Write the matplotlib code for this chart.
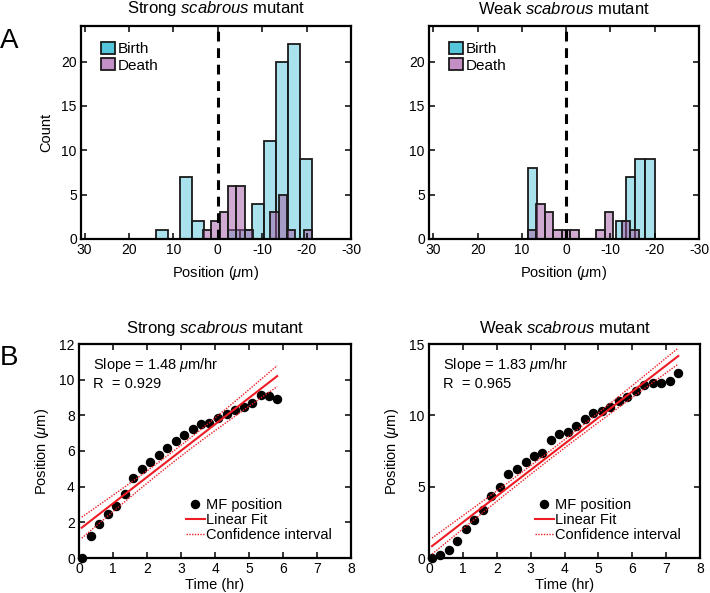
import numpy as np
import matplotlib
matplotlib.use("Agg")
import matplotlib.pyplot as plt
from matplotlib.patches import Patch

plt.rcParams['font.family'] = ['Liberation Sans', 'DejaVu Sans']
plt.rcParams['mathtext.fontset'] = 'custom'
plt.rcParams['mathtext.rm'] = 'Liberation Sans'
plt.rcParams['mathtext.it'] = 'Liberation Sans:italic'
plt.rcParams['mathtext.bf'] = 'Liberation Sans:bold'
plt.rcParams['axes.unicode_minus'] = False

# ---------------- data ----------------
strong_birth_edges = [13.8, 11.1, 8.4, 5.7, 3.0, 0.3, -2.4, -5.1, -7.8, -10.5, -13.2, -15.9, -18.6, -21.3]
strong_birth_counts = [1, 0, 7, 2, 0, 0, 1, 1, 4, 11, 20, 22, 9]
strong_death_edges = [3.4, 1.5, -0.4, -2.3, -4.2, -6.1, -8.0, -9.9, -11.8, -13.7, -15.6, -17.5, -19.4, -21.3]
strong_death_counts = [1, 2, 3, 6, 6, 1, 0, 0, 3, 5, 1, 0, 1]

weak_birth_edges = [8.7, 6.49, 4.28, 2.07, -0.14, -2.35, -4.56, -6.77, -8.98, -11.19, -13.4, -15.61, -17.82, -20.03]
weak_birth_counts = [8, 0, 0, 0, 0, 0, 0, 0, 0, 2, 7, 9, 9]
weak_death_edges = [8.7, 6.77, 4.84, 2.91, 0.98, -0.95, -2.88, -4.81, -6.74, -8.67, -10.6, -12.53, -14.46, -16.39]
weak_death_counts = [1, 4, 3, 1, 1, 1, 0, 0, 1, 3, 0, 2, 1]

strong_time = [0.08, 0.34, 0.59, 0.85, 1.10, 1.34, 1.60, 1.84, 2.10, 2.34, 2.59, 2.84,
               3.09, 3.34, 3.59, 3.83, 4.08, 4.34, 4.59, 4.84, 5.09, 5.34, 5.59, 5.83]
strong_pos = [0.0, 1.25, 1.92, 2.46, 2.93, 3.60, 4.48, 4.98, 5.37, 5.76, 6.15, 6.58,
              6.92, 7.22, 7.50, 7.59, 7.83, 8.07, 8.30, 8.48, 8.67, 9.12, 9.08, 8.91]

weak_time = [0.09, 0.33, 0.59, 0.84, 1.09, 1.34, 1.60, 1.84, 2.09, 2.34, 2.59, 2.85,
             3.09, 3.35, 3.60, 3.84, 4.10, 4.34, 4.60, 4.85, 5.10, 5.35, 5.60, 5.85,
             6.11, 6.35, 6.61, 6.86, 7.11, 7.36]
weak_pos = [0.0, 0.21, 0.58, 1.17, 2.03, 2.68, 3.38, 4.36, 4.95, 5.88, 6.25, 6.74,
            7.18, 7.37, 8.28, 8.68, 8.82, 9.26, 9.77, 10.17, 10.33, 10.57, 11.03, 11.27,
            11.73, 12.13, 12.29, 12.25, 12.43, 12.99]

titles_top = [r'Strong $\mathit{scabrous}$ mutant', r'Weak $\mathit{scabrous}$ mutant']
slope_texts = [r'Slope = 1.48 $\mu$m/hr' + '\nR  = 0.929', r'Slope = 1.83 $\mu$m/hr' + '\nR  = 0.965']
t_quantiles = [2.074, 2.048]

# ---------------- style ----------------
birth_face = (0.33, 0.78, 0.86, 0.5)
death_face = (0.64, 0.34, 0.64, 0.5)
birth_legend = '#55c6d9'
death_legend = '#c48ec6'

fig = plt.figure(figsize=(7.1, 5.93), dpi=100)
W, H = 710, 593


def add_ax(l, r, t, b):
    return fig.add_axes([l / W, 1 - b / H, (r - l) / W, (b - t) / H])


ax_tl = add_ax(81, 351, 26, 239)
ax_tr = add_ax(429, 699, 26, 239)
ax_bl = add_ax(79, 351, 344, 558)
ax_br = add_ax(429, 700, 344, 558)


def style(ax):
    for s in ax.spines.values():
        s.set_linewidth(1.6)
    ax.tick_params(direction='in', top=True, right=True, length=4, width=1.1,
                   labelsize=10, pad=3)


def hist(ax, edges, counts, face):
    edges = np.asarray(edges)
    left = edges[:-1]
    width = np.diff(edges)
    ax.bar(left, counts, width=width, align='edge', facecolor=face,
           edgecolor='#1a1a1a', linewidth=1.3)


for ax, bd, bc, dd, dc, ttl, xl in [
        (ax_tl, strong_birth_edges, strong_birth_counts, strong_death_edges, strong_death_counts, titles_top[0], 30.8),
        (ax_tr, weak_birth_edges, weak_birth_counts, weak_death_edges, weak_death_counts, titles_top[1], 31.0)]:
    hist(ax, bd, bc, birth_face)
    hist(ax, dd, dc, death_face)
    ax.plot([0, 0], [0, 24], color='k', lw=2.2, linestyle=(0, (3.2, 2.2)), zorder=5)
    ax.set_xlim(xl, -30)
    ax.set_ylim(0, 24)
    ax.set_xticks([30, 20, 10, 0, -10, -20, -30])
    ax.set_yticks([0, 5, 10, 15, 20])
    ax.set_xlabel(r'Position ($\mu$m)', fontsize=10.5, labelpad=5)
    ax.set_title(ttl, fontsize=12, pad=9)
    style(ax)
    handles = [Patch(facecolor=birth_legend, edgecolor='#1a1a1a', linewidth=1.3, label='Birth'),
               Patch(facecolor=death_legend, edgecolor='#1a1a1a', linewidth=1.3, label='Death')]
    ax.legend(handles=handles, loc='upper left', bbox_to_anchor=(0.075, 0.925),
              frameon=False, fontsize=11, handlelength=0.9, handleheight=0.8,
              handletextpad=0.15, labelspacing=0.15, borderpad=0, borderaxespad=0)

ax_tl.set_ylabel('Count', fontsize=10.5, labelpad=6)

for ax, t, y, ylim, yt, ttl, txt, tq in [
        (ax_bl, strong_time, strong_pos, 12, [0, 2, 4, 6, 8, 10, 12], titles_top[0], slope_texts[0], t_quantiles[0]),
        (ax_br, weak_time, weak_pos, 15, [0, 5, 10, 15], titles_top[1], slope_texts[1], t_quantiles[1])]:
    t = np.asarray(t)
    y = np.asarray(y)
    p = np.polyfit(t, y, 1)
    tt = np.linspace(t.min(), t.max(), 200)
    yy = np.polyval(p, tt)
    n = len(t)
    resid = y - np.polyval(p, t)
    s = np.sqrt(np.sum(resid ** 2) / (n - 2))
    sxx = np.sum((t - t.mean()) ** 2)
    half = tq * s * np.sqrt(1.0 / n + (tt - t.mean()) ** 2 / sxx)
    ax.plot(t, y, 'o', color='k', ms=5.8, zorder=3, clip_on=False, label='MF position')
    ax.plot(tt, yy, color='#ee1c25', lw=1.5, zorder=4, label='Linear Fit')
    ax.plot(tt, yy + half, color='#ee1c25', lw=1.0, ls=(0, (1, 1)), zorder=4, label='Confidence interval')
    ax.plot(tt, yy - half, color='#ee1c25', lw=1.0, ls=(0, (1, 1)), zorder=4)
    ax.set_xlim(0, 8)
    ax.set_ylim(0, ylim)
    ax.set_xticks(range(0, 9))
    ax.set_yticks(yt)
    ax.set_xlabel('Time (hr)', fontsize=10.5, labelpad=1)
    ax.set_ylabel(r'Position ($\mu$m)', fontsize=10.5, labelpad=6)
    ax.set_title(ttl, fontsize=12, pad=8)
    ax.text(0.05, 0.945, txt, transform=ax.transAxes, fontsize=10.5, va='top',
            ha='left', linespacing=1.25)
    style(ax)
    ax.legend(loc='lower right', bbox_to_anchor=(0.93, 0.075), frameon=False,
              fontsize=10.5, handlelength=1.3, handletextpad=0.1, labelspacing=0.05,
              borderpad=0, borderaxespad=0, markerscale=1.0)

fig.text(0.0, 1 - 48 / H, 'A', fontsize=20, va='baseline', ha='left')
fig.text(0.0, 1 - 365 / H, 'B', fontsize=20, va='baseline', ha='left')

fig.savefig('out.png', dpi=100)
